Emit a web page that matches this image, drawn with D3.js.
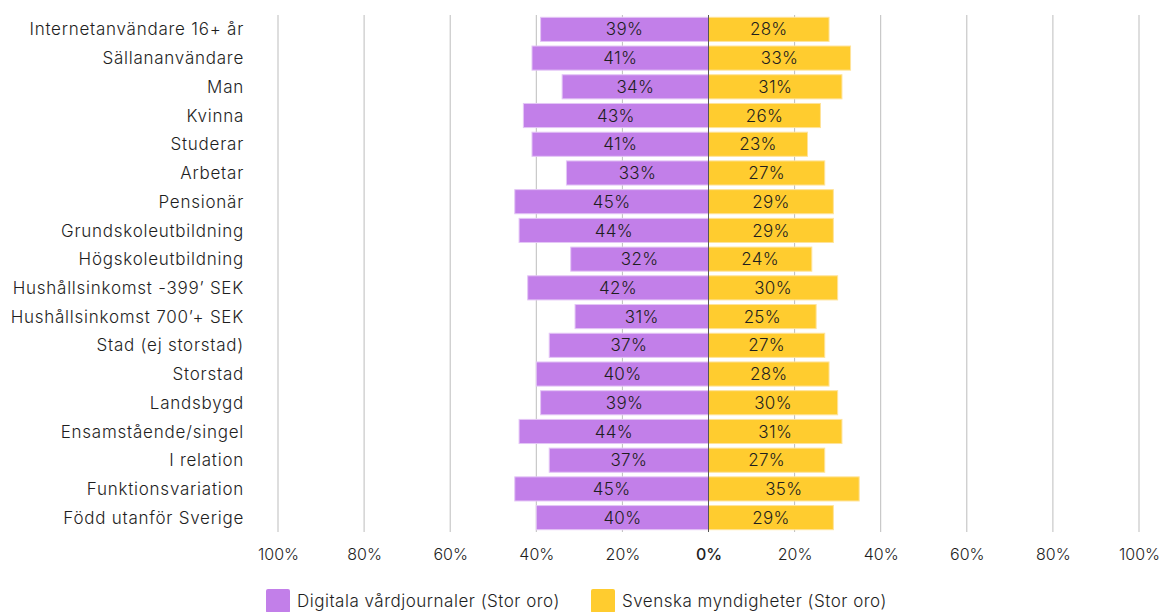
<!DOCTYPE html>
<html>
<head>
<meta charset="utf-8">
<script src="https://cdn.jsdelivr.net/npm/d3@7"></script>
<style>
  body { margin: 0; background: #fff; }
  text { font-family: Inter, "Noto Sans", sans-serif; fill: #1e1e1e; font-weight: 300; }
</style>
</head>
<body>
<div class="graph"></div>
<script>
  const categories = [
    'Internetanvändare 16+ år', 'Sällananvändare', 'Man', 'Kvinna', 'Studerar',
    'Arbetar', 'Pensionär', 'Grundskoleutbildning', 'Högskoleutbildning',
    'Hushållsinkomst -399\u2019 SEK', 'Hushållsinkomst 700\u2019+ SEK', 'Stad (ej storstad)',
    'Storstad', 'Landsbygd', 'Ensamstående/singel', 'I relation',
    'Funktionsvariation', 'Född utanför Sverige'
  ];
  const vardjournaler = [39, 41, 34, 43, 41, 33, 45, 44, 32, 42, 31, 37, 40, 39, 44, 37, 45, 40];
  const myndigheter = [28, 33, 31, 26, 23, 27, 29, 29, 24, 30, 25, 27, 28, 30, 31, 27, 35, 29];
  const ticks = [-100, -80, -60, -40, -20, 0, 20, 40, 60, 80, 100];
  const seriesNames = ['Digitala vårdjournaler (Stor oro)', 'Svenska myndigheter (Stor oro)'];
  const colors = ['#c27fe9', '#ffcc2f'];

  const width = 1163, height = 612;
  const margin = { top: 15, left: 278, bottom: 80, right: 24 };
  const font = 'Inter, "Noto Sans", sans-serif';

  const svg = d3.select('.graph')
    .append('svg')
    .attr('width', width)
    .attr('height', height);

  const xScale = d3.scaleLinear()
    .domain([-100, 100])
    .range([margin.left, width - margin.right]);

  const yScale = d3.scaleBand()
    .domain(categories)
    .range([margin.top, height - margin.bottom])
    .paddingInner(0.16)
    .paddingOuter(0.08);

  // grid
  svg.append('g')
    .selectAll('line')
    .data(ticks)
    .join('line')
    .attr('x1', d => xScale(d))
    .attr('x2', d => xScale(d))
    .attr('y1', margin.top)
    .attr('y2', height - margin.bottom)
    .attr('stroke', d => d === 0 ? '#555' : '#bdbdbd')
    .attr('stroke-width', 1);

  const rows = categories.map((c, i) => ({ c, left: vardjournaler[i], right: myndigheter[i] }));

  svg.append('g')
    .selectAll('rect')
    .data(rows)
    .join('rect')
    .attr('x', d => xScale(-d.left))
    .attr('y', d => yScale(d.c))
    .attr('width', d => xScale(0) - xScale(-d.left))
    .attr('height', yScale.bandwidth())
    .attr('fill', colors[0])
    .attr('stroke', '#e4c6f6')
    .attr('stroke-width', 1);

  svg.append('g')
    .selectAll('rect')
    .data(rows)
    .join('rect')
    .attr('x', xScale(0))
    .attr('y', d => yScale(d.c))
    .attr('width', d => xScale(d.right) - xScale(0))
    .attr('height', yScale.bandwidth())
    .attr('fill', colors[1])
    .attr('stroke', '#ffe39a')
    .attr('stroke-width', 1);

  // zero line over bars
  svg.append('line')
    .attr('x1', xScale(0)).attr('x2', xScale(0))
    .attr('y1', margin.top).attr('y2', height - margin.bottom)
    .attr('stroke', '#555');

  // value labels
  svg.append('g')
    .selectAll('text')
    .data(rows)
    .join('text')
    .attr('x', d => xScale(-d.left / 2))
    .attr('y', d => yScale(d.c) + yScale.bandwidth() / 2)
    .attr('dy', '0.36em')
    .attr('text-anchor', 'middle')
    .attr('font-size', 17)
    .attr('letter-spacing', 0.3)
    .text(d => d.left + '%');

  svg.append('g')
    .selectAll('text')
    .data(rows)
    .join('text')
    .attr('x', d => xScale(d.right / 2))
    .attr('y', d => yScale(d.c) + yScale.bandwidth() / 2)
    .attr('dy', '0.36em')
    .attr('text-anchor', 'middle')
    .attr('font-size', 17)
    .attr('letter-spacing', 0.3)
    .text(d => d.right + '%');

  // category axis
  const yAxis = d3.axisLeft(yScale).tickSize(0).tickPadding(0);
  svg.append('g')
    .attr('class', 'y-axis')
    .attr('transform', `translate(${margin.left - 34},0)`)
    .call(yAxis)
    .call(g => g.select('.domain').remove())
    .selectAll('text')
    .attr('font-size', 17)
    .attr('letter-spacing', 0.75)
    .attr('dy', '0.36em')
    .style('font-family', font)
    .attr('fill', '#1e1e1e');

  // x axis
  const xAxis = d3.axisBottom(xScale)
    .tickValues(ticks)
    .tickSize(0)
    .tickPadding(17)
    .tickFormat(d => Math.abs(d) + '%');
  svg.append('g')
    .attr('class', 'x-axis')
    .attr('transform', `translate(0, ${height - margin.bottom})`)
    .call(xAxis)
    .call(g => g.select('.domain').remove())
    .selectAll('text')
    .attr('font-size', 16)
    .style('font-family', font)
    .attr('fill', '#1e1e1e')
    .style('font-weight', d => d === 0 ? 500 : 300);

  // legend
  const legend = svg.append('g').attr('transform', 'translate(266, 589)');
  const legendX = [0, 325];
  seriesNames.forEach((name, i) => {
    const g = legend.append('g').attr('transform', `translate(${legendX[i]},0)`);
    g.append('rect')
      .attr('width', 24).attr('height', 24).attr('rx', 2)
      .attr('fill', colors[i]);
    g.append('text')
      .attr('x', 31).attr('y', 12).attr('dy', '0.36em')
      .attr('font-size', 17)
      .attr('letter-spacing', 0.5)
      .text(name);
  });
</script>
</body>
</html>
